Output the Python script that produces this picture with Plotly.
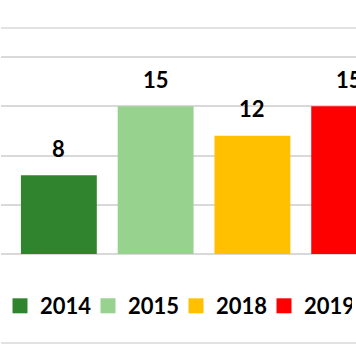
import plotly.graph_objects as go

years = ["2014", "2015", "2018", "2019"]
values = [8, 15, 12, 15]
colors = ["#31842E", "#97D28F", "#FFC000", "#FF0000"]

FONT = "Lato"
W, H = 420, 364
PLOT_TOP, PLOT_BOTTOM = 28, 254
idx = list(range(len(years)))

fig = go.Figure()
fig.add_trace(go.Bar(
    x=idx, y=values, width=0.784,
    marker=dict(color=colors, line=dict(width=0)),
    showlegend=False, hoverinfo="skip",
))
for yr, c in zip(years, colors):
    fig.add_trace(go.Scatter(
        x=[None], y=[None], mode="markers", name=yr,
        marker=dict(symbol="square", size=15, color=c),
    ))

for i, v in zip(idx, values):
    fig.add_annotation(
        x=i, y=v, text=str(v), showarrow=False,
        yanchor="middle", yshift=27,
        font=dict(family=FONT, size=22, color="#000000", weight="bold"),
    )

ph = PLOT_BOTTOM - PLOT_TOP
fig.add_shape(type="line", xref="paper", yref="paper", x0=0, x1=1, y0=1, y1=1,
              line=dict(color="#D9D9D9", width=1.5))
fig.add_shape(type="line", xref="paper", yref="paper", x0=0, x1=1,
              y0=(PLOT_BOTTOM - 343) / ph, y1=(PLOT_BOTTOM - 343) / ph,
              line=dict(color="#D9D9D9", width=1.5))

fig.update_layout(
    width=W, height=H,
    margin=dict(l=0, r=0, t=PLOT_TOP, b=H - PLOT_BOTTOM, pad=0),
    paper_bgcolor="white", plot_bgcolor="white",
    xaxis=dict(range=[-58 / 97, (W - 58) / 97], showticklabels=False, showgrid=False,
               zeroline=False, showline=False, ticks=""),
    yaxis=dict(range=[0, ph / 9.85], dtick=5, showticklabels=False,
               gridcolor="#D9D9D9", gridwidth=1.5,
               zeroline=True, zerolinecolor="#D9D9D9", zerolinewidth=1.5,
               showline=False, ticks=""),
    showlegend=True,
    legend=dict(orientation="h", x=-1 / W, xanchor="left",
                y=(PLOT_BOTTOM - 306) / ph, yanchor="middle",
                font=dict(family=FONT, size=22, color="#000000", weight="bold"),
                entrywidth=43, entrywidthmode="pixels",
                itemwidth=30, bgcolor="rgba(0,0,0,0)"),
)
fig.write_html(
    "out.html",
    config={"displayModeBar": False},
    post_script="document.body.style.margin='0';document.body.style.overflow='hidden';"
                "document.documentElement.style.overflow='hidden';",
)
